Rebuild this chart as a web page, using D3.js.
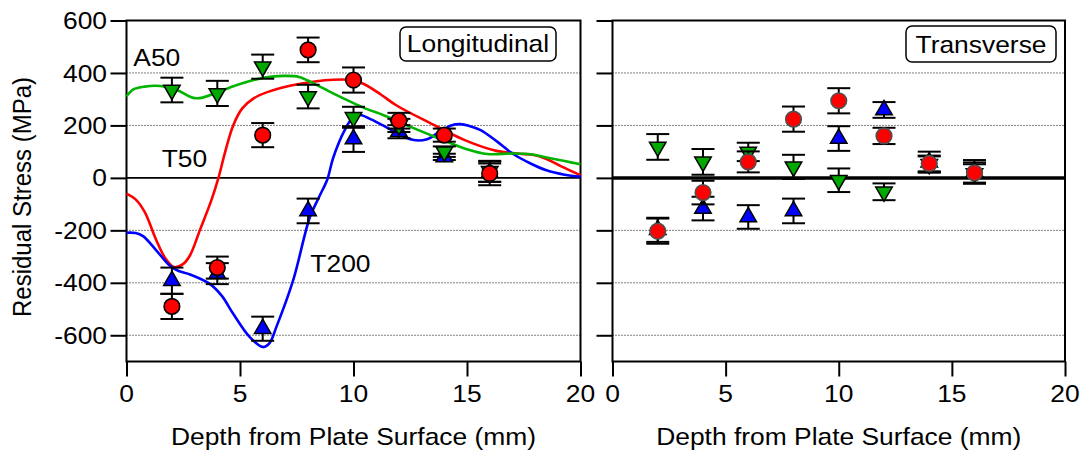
<!DOCTYPE html>
<html>
<head>
<meta charset="utf-8">
<script src="https://cdn.jsdelivr.net/npm/d3@7"></script>
<style>
  body { margin: 0; background: #fff; }
  svg { display: block; }
</style>
</head>
<body>
<div id="chart"></div>
<script>
// ---- data ----
const DEPTHS = [2, 4, 6, 8, 10, 12, 14, 16];

// Longitudinal measurements (MPa) and error half-widths
const LONG_A50 = [335, 322, 424, 310, 231, 200, 100, 25];
const LONG_A50_ERR = [47, 48, 46, 45, 40, 25, 20, 40];
const LONG_T50 = [-490, -342, 163, 488, 373, 218, 163, 17];
const LONG_T50_ERR = [48, 42, 46, 47, 48, 30, 25, 45];
const LONG_T200 = [-392, -365, -575, -126, 148, 176, 80, 20];
const LONG_T200_ERR = [50, 40, 46, 47, 49, 25, 12, 35];

// Transverse measurements
const TRANS_A50 = [118, 61, 99, 42, -9, -53, 52, 17];
const TRANS_A50_ERR = [49, 49, 35, 46, 45, 32, 30, 35];
const TRANS_T50 = [-203, -56, 61, 224, 294, 160, 55, 19];
const TRANS_T50_ERR = [48, 45, 40, 48, 48, 31, 30, 40];
const TRANS_T200 = [-198, -117, -149, -126, 150, 259, 60, 23];
const TRANS_T200_ERR = [46, 45, 45, 47, 47, 30, 40, 45];

// fitted profiles, longitudinal only: [depth, stress]
const FIT_A50 = [[0,310],[0.3,337],[0.8,348],[1.5,350],[2.2,336],[2.9,306],[3.3,305],[4.0,326],[4.8,352],
  [5.6,373],[6.4,386],[7.0,389],[7.6,385],[8.2,362],[9.1,322],[10.0,285],[10.6,262],[11.3,240],[12.0,214],
  [12.7,188],[13.4,163],[14.2,135],[14.9,112],[15.9,91],[17.0,93],[17.8,90],[18.5,78],[19.3,64],[20,52]];
const FIT_T50 = [[0,-60],[0.4,-82],[0.8,-130],[1.3,-235],[1.7,-305],[2.1,-340],[2.5,-328],[2.8,-295],
  [3.23,-200],[3.74,-85],[4.05,0],[4.35,100],[4.7,200],[5.1,265],[5.6,303],[6.2,327],[7.6,358],[9.1,374],
  [10.0,372],[10.5,356],[11.2,318],[11.9,276],[13.4,208],[14.9,144],[16.3,103],[17.3,92],[17.9,88],
  [18.5,72],[19.2,42],[20,10]];
const FIT_T200 = [[0,-209],[0.4,-210],[0.73,-222],[1.3,-275],[1.9,-334],[2.3,-355],[2.8,-368],[3.67,-404],
  [4.2,-450],[4.7,-518],[5.43,-607],[6.02,-645],[6.3,-630],[6.6,-569],[7.34,-391],[8.08,-149],[8.5,-70],
  [8.85,-5],[9.1,75],[9.6,180],[10.0,233],[10.3,240],[10.8,222],[11.3,200],[11.9,172],[12.6,145],
  [13.2,146],[13.8,176],[14.3,200],[14.7,205],[15.1,198],[15.6,182],[16.3,140],[17.0,93],[17.8,55],
  [18.5,29],[19.3,12],[20,4]];

const X_TICKS = [0, 5, 10, 15, 20];
const Y_TICKS = [-600, -400, -200, 0, 200, 400, 600];
const GRID_VALUES = [-600, -400, -200, 200, 400];
const Y_LABEL = "Residual Stress (MPa)";
const X_LABEL = "Depth from Plate Surface (mm)";

const RED = "#ff0000", BLUE = "#0000ff", GREEN_LINE = "#00b400", GREEN_MARK = "#00a800";
const FONT = "'Liberation Sans', Arial, sans-serif";

// ---- layout ----
const W = 1086, H = 457;
const y = d3.scaleLinear().domain([-700, 600]).range([361.5, 20.5]);
const xL = d3.scaleLinear().domain([0, 20]).range([126.5, 580.5]);
const xR = d3.scaleLinear().domain([0, 20]).range([612.5, 1065]);

const svg = d3.select("#chart").append("svg")
  .attr("width", W).attr("height", H)
  .style("font-family", FONT);

// horizontal text is a bit wide in the original, stretch 1.1
function hText(parent, tx, ty, str, anchor, size) {
  return parent.append("text")
    .attr("transform", `translate(${tx},${ty}) scale(1.1,1)`)
    .attr("text-anchor", anchor)
    .attr("font-size", size)
    .attr("fill", "#000")
    .text(str);
}

const triUp = d3.symbol().type(d3.symbolTriangle).size(118)();

function drawPanel(x, opts) {
  const g = svg.append("g");
  const [x0, x1] = x.range();
  const [yb, yt] = y.range();

  // dotted grid
  g.selectAll(".grid").data(GRID_VALUES).join("line")
    .attr("x1", x0).attr("x2", x1)
    .attr("y1", d => y(d)).attr("y2", d => y(d))
    .attr("stroke", "#000").attr("stroke-width", 1)
    .attr("stroke-dasharray", "1,2");

  // zero line
  g.append("line")
    .attr("x1", x0).attr("x2", x1).attr("y1", y(0)).attr("y2", y(0))
    .attr("stroke", "#000").attr("stroke-width", opts.zeroWidth);

  // ticks
  const axX = g.append("g").attr("transform", `translate(0,${yb})`);
  axX.call(d3.axisBottom(x).tickValues(d3.range(0, 21, 1)).tickSize(8).tickFormat(""));
  axX.call(d3.axisBottom(x).tickValues(X_TICKS).tickSize(15).tickFormat(""));
  const axY = g.append("g").attr("transform", `translate(${x0},0)`);
  axY.call(d3.axisLeft(y).tickValues(d3.range(-680, 600, 40)).tickSize(8).tickFormat(""));
  axY.call(d3.axisLeft(y).tickValues(Y_TICKS).tickSize(16).tickFormat(""));
  g.selectAll(".domain").remove();
  g.selectAll(".tick line").attr("stroke", "#000").attr("stroke-width", 2);

  // frame
  g.append("rect")
    .attr("x", x0).attr("y", yt).attr("width", x1 - x0).attr("height", yb - yt)
    .attr("fill", "none").attr("stroke", "#000").attr("stroke-width", 2);

  // x tick labels
  X_TICKS.forEach(t => hText(g, x(t), 402, String(t), "middle", 24));
  if (opts.yLabels) {
    Y_TICKS.forEach(t => hText(g, 107, y(t) + 8.6, String(t), "end", 24));
  }
  hText(g, (x0 + x1) / 2, 445, X_LABEL, "middle", 24);

  // fitted curves
  const line = d3.line().x(d => x(d[0])).y(d => y(d[1])).curve(d3.curveCatmullRom.alpha(0.5));
  (opts.fits || []).forEach(f => {
    g.append("path").datum(f.data)
      .attr("d", line).attr("fill", "none")
      .attr("stroke", f.color).attr("stroke-width", 2.6);
  });

  // measurements with error bars
  opts.series.forEach(s => {
    const pts = DEPTHS.map((d, i) => ({ d, v: s.values[i], e: s.errors[i] }));
    const eb = g.append("g").attr("stroke", "#000").attr("stroke-width", 2);
    pts.forEach(p => {
      const cx = x(p.d);
      eb.append("line").attr("x1", cx).attr("x2", cx).attr("y1", y(p.v - p.e)).attr("y2", y(p.v + p.e));
      [p.v - p.e, p.v + p.e].forEach(v =>
        eb.append("line").attr("x1", cx - 11.5).attr("x2", cx + 11.5).attr("y1", y(v)).attr("y2", y(v)));
    });
    const mk = g.append("g");
    pts.forEach(p => {
      if (s.shape === "circle") {
        mk.append("circle").attr("cx", x(p.d)).attr("cy", y(p.v)).attr("r", 7.8)
          .attr("fill", s.color).attr("stroke", opts.circleStroke).attr("stroke-width", 1.6);
      } else {
        mk.append("path").attr("d", triUp)
          .attr("transform", `translate(${x(p.d)},${y(p.v)}) rotate(${s.shape === "down" ? 180 : 0})`)
          .attr("fill", s.color).attr("stroke", "#000").attr("stroke-width", 1.5);
      }
    });
  });

  // panel label box
  const b = opts.box;
  g.append("rect").attr("x", b.x).attr("y", b.y).attr("width", b.w).attr("height", b.h)
    .attr("rx", 6).attr("fill", "#fff").attr("stroke", "#000").attr("stroke-width", 1.5);
  hText(g, b.x + b.w / 2, b.y + b.h - 9.5, opts.title, "middle", 24);
  return g;
}

const left = drawPanel(xL, {
  yLabels: true,
  zeroWidth: 1.6,
  circleStroke: "#000",
  title: "Longitudinal",
  box: { x: 400, y: 27, w: 156, h: 34 },
  fits: [
    { data: FIT_T50, color: RED },
    { data: FIT_T200, color: BLUE },
    { data: FIT_A50, color: GREEN_LINE }
  ],
  series: [
    { values: LONG_T200, errors: LONG_T200_ERR, color: BLUE, shape: "up" },
    { values: LONG_A50, errors: LONG_A50_ERR, color: GREEN_MARK, shape: "down" },
    { values: LONG_T50, errors: LONG_T50_ERR, color: RED, shape: "circle" }
  ]
});

drawPanel(xR, {
  yLabels: false,
  zeroWidth: 3.5,
  circleStroke: "#505050",
  title: "Transverse",
  box: { x: 906, y: 26, w: 150, h: 36 },
  series: [
    { values: TRANS_T200, errors: TRANS_T200_ERR, color: BLUE, shape: "up" },
    { values: TRANS_A50, errors: TRANS_A50_ERR, color: GREEN_MARK, shape: "down" },
    { values: TRANS_T50, errors: TRANS_T50_ERR, color: RED, shape: "circle" }
  ]
});

// curve annotations (data coordinates)
hText(left, xL(0.3), y(427), "A50", "start", 24);
hText(left, xL(1.55), y(40), "T50", "start", 24);
hText(left, xL(8.1), y(-360), "T200", "start", 24);

// y axis title
svg.append("text")
  .attr("transform", `translate(31,197) scale(1.1,1) rotate(-90)`)
  .attr("text-anchor", "middle")
  .attr("font-size", 24)
  .text(Y_LABEL);
</script>
</body>
</html>
